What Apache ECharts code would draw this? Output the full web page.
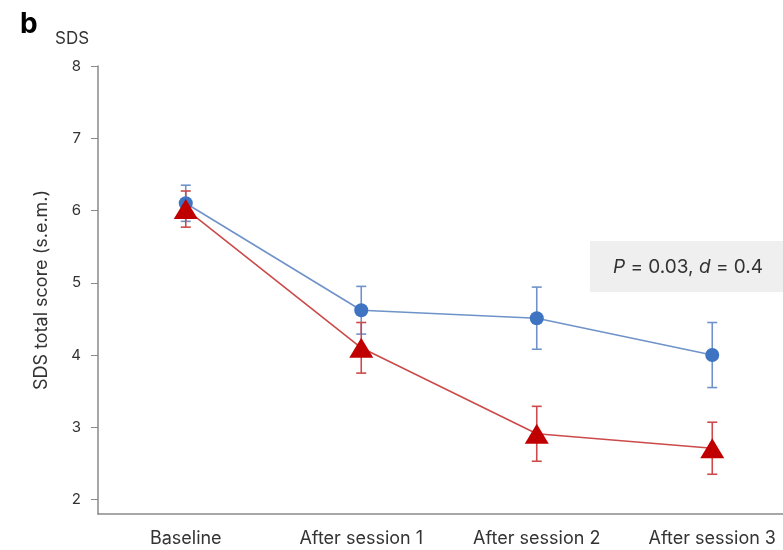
<!DOCTYPE html>
<html>
<head>
<meta charset="utf-8">
<script src="https://cdn.jsdelivr.net/npm/echarts@6/dist/echarts.min.js"></script>
<style>html,body{margin:0;padding:0;background:#fff}#c{width:783px;height:550px}</style>
</head>
<body>
<div id="c"></div>
<script>
const categories = ['Baseline', 'After session 1', 'After session 2', 'After session 3'];
const blueMean = [6.1, 4.62, 4.51, 4.0];
const blueSem = [0.25, 0.33, 0.43, 0.45];
const redMean = [6.02, 4.1, 2.91, 2.71];
const redSem = [0.25, 0.35, 0.38, 0.36];
const yTicks = [2, 3, 4, 5, 6, 7, 8];

const BLUE_LINE = '#6f93c9';
const BLUE = '#3f74c2';
const RED_LINE = '#cc4a4a';
const RED = '#c00000';
const FONT = 'Inter';

function errData(mean, sem) {
  return mean.map((m, i) => [i, m - sem[i], m + sem[i]]);
}
function errSeries(mean, sem, color) {
  return {
    type: 'custom',
    data: errData(mean, sem),
    z: 1,
    renderItem: function (params, api) {
      const x = api.value(0);
      const lo = api.coord([x, api.value(1)]);
      const hi = api.coord([x, api.value(2)]);
      const hw = 5;
      const st = { stroke: color, lineWidth: 1.6 };
      return {
        type: 'group',
        children: [
          { type: 'line', shape: { x1: lo[0], y1: lo[1], x2: hi[0], y2: hi[1] }, style: st },
          { type: 'line', shape: { x1: lo[0] - hw, y1: lo[1], x2: lo[0] + hw, y2: lo[1] }, style: st },
          { type: 'line', shape: { x1: hi[0] - hw, y1: hi[1], x2: hi[0] + hw, y2: hi[1] }, style: st }
        ]
      };
    }
  };
}

const chart = echarts.init(document.getElementById('c'));
chart.setOption({
  animation: false,
  textStyle: { fontFamily: FONT },
  grid: { left: 98, width: 702, top: 66, bottom: 36, containLabel: false, outerBoundsMode: 'none' },
  xAxis: {
    type: 'category',
    data: categories,
    boundaryGap: true,
    axisLine: { lineStyle: { color: '#8a8a8a', width: 1.5 } },
    axisTick: { alignWithLabel: true, length: 6, lineStyle: { color: '#8a8a8a' } },
    axisLabel: { color: '#333', fontSize: 18, margin: 16, fontFamily: FONT, hideOverlap: false }
  },
  yAxis: {
    type: 'value',
    min: 1.8,
    max: 8,
    name: 'SDS total score (s.e.m.)',
    nameLocation: 'middle',
    nameGap: 47,
    nameTextStyle: { color: '#333', fontSize: 18, fontFamily: FONT },
    splitLine: { show: false },
    axisLine: { show: true, lineStyle: { color: '#8a8a8a', width: 1.5 } },
    axisTick: { show: true, length: 7, customValues: yTicks, lineStyle: { color: '#8a8a8a' } },
    axisLabel: { color: '#333', fontSize: 15, margin: 17, customValues: yTicks, fontFamily: FONT }
  },
  graphic: [
    { type: 'text', left: 20, top: 11, style: { text: 'b', font: 'bold 28px ' + FONT, fill: '#000' } },
    { type: 'text', left: 55, top: 30, style: { text: 'SDS', font: '17px ' + FONT, fill: '#333' } },
    { type: 'rect', shape: { x: 590, y: 241, width: 200, height: 51 }, style: { fill: '#efefef' }, z: 0 },
    {
      type: 'text', x: 688, y: 267, z: 1,
      style: {
        text: '{i|P} = 0.03, {i|d} = 0.4',
        align: 'center', verticalAlign: 'middle',
        font: '19px ' + FONT, fill: '#333',
        rich: { i: { fontStyle: 'italic', fontSize: 19, fontFamily: FONT, fill: '#333' } }
      }
    }
  ],
  series: [
    errSeries(blueMean, blueSem, BLUE_LINE),
    {
      type: 'line', data: blueMean, z: 2,
      symbol: 'circle', symbolSize: 14,
      lineStyle: { color: BLUE_LINE, width: 1.6 },
      itemStyle: { color: BLUE }
    },
    errSeries(redMean, redSem, RED_LINE),
    {
      type: 'line', data: redMean, z: 3,
      symbol: 'triangle', symbolSize: [24, 20],
      lineStyle: { color: RED_LINE, width: 1.6 },
      itemStyle: { color: RED }
    }
  ]
});
</script>
</body>
</html>
